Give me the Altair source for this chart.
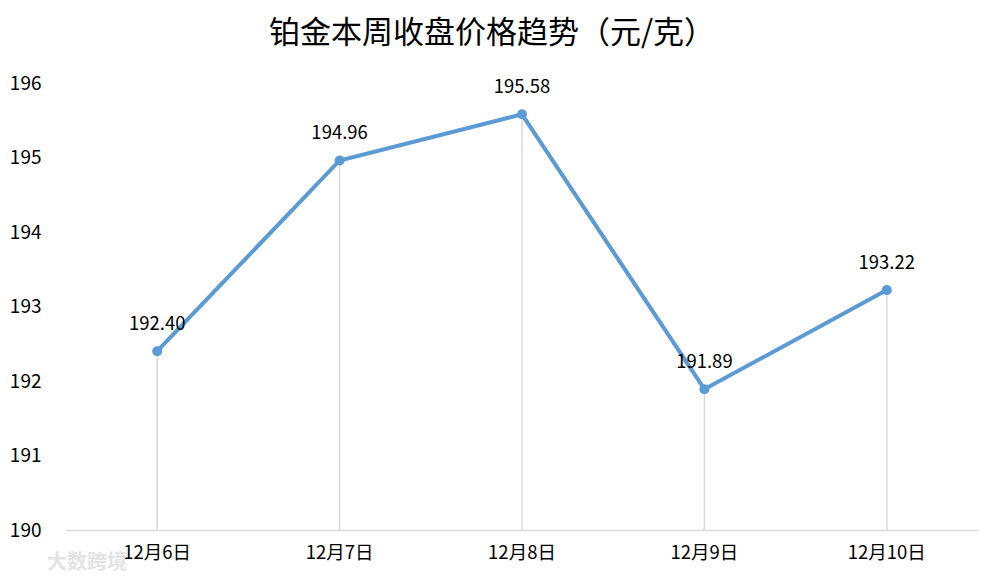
import altair as alt
import pandas as pd

dates = ["12月6日", "12月7日", "12月8日", "12月9日", "12月10日"]
prices = [192.40, 194.96, 195.58, 191.89, 193.22]
labels = ["192.40", "194.96", "195.58", "191.89", "193.22"]
y_ticks = [190, 191, 192, 193, 194, 195, 196]

df = pd.DataFrame({"date": dates, "price": prices, "label": labels, "base": [190] * 5})

FONT = "Noto Sans CJK SC"

x = alt.X("date:N", sort=dates, title=None,
          scale=alt.Scale(paddingInner=0, paddingOuter=0, align=0.5),
          axis=alt.Axis(labelAngle=0, labelFontSize=18.5, labelColor="#000000", labelFont=FONT,
                        domainColor="#d9d9d9", domainWidth=1.5, ticks=False, labelPadding=13,
                        grid=False))
y = alt.Y("price:Q", title=None, scale=alt.Scale(domain=[190, 196], nice=False, zero=False),
          axis=alt.Axis(values=y_ticks, domain=False, ticks=False, grid=False, labelFontSize=19,
                        labelColor="#000000", labelFont=FONT, labelPadding=25))

base = alt.Chart(df)
xe = alt.X("date:N", sort=dates, title=None)

rules = base.mark_rule(color="#d9d9d9", strokeWidth=1.5).encode(x=xe, y=y, y2="base:Q")
line = base.mark_line(color="#5b9bd5", strokeWidth=4).encode(x=xe, y=y)
points = base.mark_circle(color="#5b9bd5", size=100, opacity=1).encode(x=xe, y=y)
text = base.mark_text(fontSize=18.5, font=FONT, color="#000000", dy=-27).encode(
    x=xe, y=y, text="label:N")

watermark = alt.Chart(pd.DataFrame({"t": ["大数跨境"]})).mark_text(
    fontSize=20, font=FONT, color="#e3e3e3", align="left", fontWeight="bold"
).encode(x=alt.value(-19), y=alt.value(480), text="t:N")

chart = alt.layer(rules, line, points, text, watermark).encode(x=x).properties(
    width=912, height=447,
    autosize=alt.AutoSizeParams(type="none"),
    padding={"left": 58, "top": 75, "right": 16, "bottom": 52},
    title=alt.TitleParams("铂金本周收盘价格趋势（元/克）", fontSize=31, font=FONT, fontWeight="normal",
                          color="#000000", dx=-30, offset=24, anchor="middle"),
).configure_view(stroke=None)

chart.save("out.html", embed_options={"renderer": "svg", "actions": False})
